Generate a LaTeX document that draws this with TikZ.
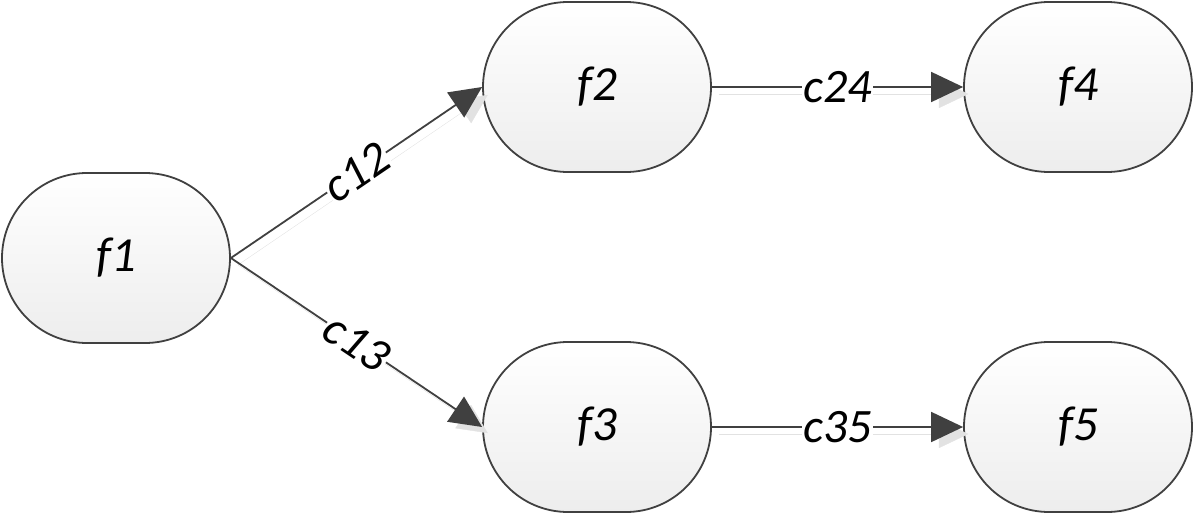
\documentclass[tikz,border=0pt]{standalone}
\usepackage{fontspec}
\setmainfont{Carlito}
\usetikzlibrary{arrows.meta}
\definecolor{edgegray}{HTML}{404040}
\definecolor{shadowgray}{HTML}{E2E2E2}
\tikzset{
  fnode/.style={draw=edgegray, line width=1.8pt, rounded corners=85pt,
    minimum width=228pt, minimum height=170pt, top color=white, bottom color=black!7,
    font=\fontsize{49}{56}\selectfont\itshape, inner sep=0pt},
  conn/.style={draw=edgegray, line width=1.8pt,
    -{Triangle[length=32pt,width=30pt]},
    preaction={draw=shadowgray, transform canvas={shift={(7,7)}}}},
  clabel/.style={fill=white, inner sep=1pt, font=\fontsize{48}{54}\selectfont\itshape}
}
\begin{document}
\begin{tikzpicture}[x=1pt,y=-1pt]
\useasboundingbox (0,0) rectangle (1200,514);
\node[fnode] (f1) at (116,258) {f1};
\node[fnode] (f2) at (597,87) {f2};
\node[fnode] (f3) at (597,427) {f3};
\node[fnode] (f4) at (1078,87) {f4};
\node[fnode] (f5) at (1078,427) {f5};
\draw[conn] (f1.east) -- node[clabel, sloped] {c12} (f2.west);
\draw[conn] (f1.east) -- node[clabel, sloped] {c13} (f3.west);
\draw[conn] (f2.east) -- node[clabel] {c24} (f4.west);
\draw[conn] (f3.east) -- node[clabel] {c35} (f5.west);
\end{tikzpicture}
\end{document}
